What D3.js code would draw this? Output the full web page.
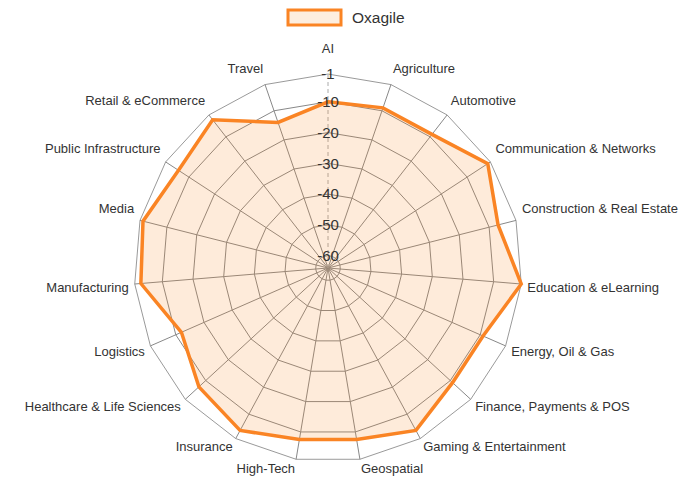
<!DOCTYPE html>
<html>
<head>
  <meta charset="utf-8">
  <style>
  body { margin: 0; background: #fff; }
  text { font-family: "Liberation Sans", Arial, sans-serif; fill: #333; }
  .ring, .spoke { fill: none; stroke: #888; stroke-width: 1px; }
  .ring.outer { stroke: #9a9a9a; }
  .axis-line { stroke: #aaa; stroke-width: 1px; stroke-dasharray: 4,3; }
  .area { fill: #f98b24; fill-opacity: 0.17; stroke: none; }
  .line { fill: none; stroke: #fa8424; stroke-width: 3.5px; stroke-linejoin: miter; }
  </style>
  <script src="https://d3js.org/d3.v7.min.js"></script>
</head>
<body>
<svg id="chart"></svg>
<script>

// categories, clockwise from the top
var categories = ["AI", "Agriculture", "Automotive", "Communication & Networks",
  "Construction & Real Estate", "Education & eLearning", "Energy, Oil & Gas",
  "Finance, Payments & POS", "Gaming & Entertainment", "Geospatial", "High-Tech",
  "Insurance", "Healthcare & Life Sciences", "Logistics", "Manufacturing", "Media",
  "Public Infrastructure", "Retail & eCommerce", "Travel"];

var values = [-10, -9, -9, -2, -7, -1, -9, -9, -4, -7.5, -7.5, -4, -7, -12, -3, -2, -6, -3, -14];

var ticks = [-1, -10, -20, -30, -40, -50, -60];

var seriesName = "Oxagile";

var width = 680, height = 477;
var cx = 328, cy = 268;

var svg = d3.select("#chart")
    .attr("width", width)
    .attr("height", height);

var r = d3.scaleLinear().domain([-64, 0]).range([0, 197]);

var n = categories.length;
var angle = d3.scaleLinear().domain([0, n]).range([0, 2 * Math.PI]);

var g = svg.append("g")
    .attr("transform", "translate(" + cx + "," + cy + ")");

// rings
var ringLine = d3.lineRadial()
    .angle(function(d, i) { return angle(i); })
    .radius(function(d) { return d; })
    .curve(d3.curveLinearClosed);

g.selectAll(".ring")
    .data(ticks)
  .enter().append("path")
    .attr("class", function(t, i) { return i === 0 ? "ring outer" : "ring"; })
    .attr("d", function(t) { return ringLine(d3.range(n).map(function() { return r(t); })); });

// spokes (the first one is the value axis, dashed)
g.selectAll(".spoke")
    .data(d3.range(1, n))
  .enter().append("line")
    .attr("class", "spoke")
    .attr("x1", 0).attr("y1", 0)
    .attr("x2", function(i) { return r(-1) * Math.sin(angle(i)); })
    .attr("y2", function(i) { return -r(-1) * Math.cos(angle(i)); });

g.append("line")
    .attr("class", "axis-line")
    .attr("x1", 0).attr("y1", 0)
    .attr("x2", 0).attr("y2", -r(-1));

// series
var valueLine = d3.lineRadial()
    .angle(function(d, i) { return angle(i); })
    .radius(function(d) { return r(d); })
    .curve(d3.curveLinearClosed);

g.append("path")
    .datum(values)
    .attr("class", "area")
    .attr("d", valueLine);

g.append("path")
    .datum(values)
    .attr("class", "line")
    .attr("d", valueLine);

// value axis labels
g.selectAll(".tick-label")
    .data(ticks)
  .enter().append("text")
    .attr("class", "tick-label")
    .attr("x", 0)
    .attr("y", function(t) { return -r(t); })
    .attr("dy", "0.35em")
    .attr("text-anchor", "middle")
    .style("font-size", "15px")
    .text(function(t) { return t; });

// category labels
var labelR = 200;
g.selectAll(".cat-label")
    .data(categories)
  .enter().append("text")
    .attr("class", "cat-label")
    .attr("x", function(d, i) { return labelR * Math.sin(angle(i)); })
    .attr("y", function(d, i) {
      var c = Math.cos(angle(i));
      var y = -labelR * c;
      if (i === 0) return y - 20;
      return c > 0 ? y - 10 : y + 3;
    })
    .attr("dy", "0.35em")
    .attr("text-anchor", function(d, i) {
      var s = Math.sin(angle(i));
      if (Math.abs(s) < 0.05) return "middle";
      return s > 0 ? "start" : "end";
    })
    .style("font-size", "13px")
    .text(function(d) { return d; });

// legend
var legend = svg.append("g").attr("transform", "translate(288,10)");
legend.append("rect")
    .attr("width", 53).attr("height", 15)
    .attr("fill", "#fdeedf")
    .attr("stroke", "#fa8424")
    .attr("stroke-width", 3);
legend.append("text")
    .attr("x", 64).attr("y", 8)
    .attr("dy", "0.35em")
    .style("font-size", "15.5px")
    .text(seriesName);

</script>
</body>
</html>
